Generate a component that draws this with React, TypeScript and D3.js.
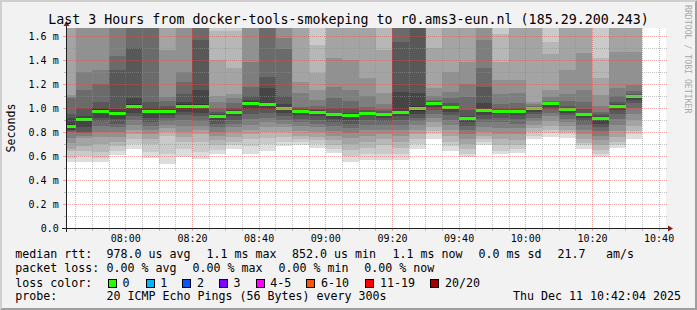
import React from "react";
import * as d3 from "d3";

// ---------- data ----------
const END = new Date(2025, 11, 11, 10, 42, 4);
const START = new Date(END.getTime() - 3 * 3600 * 1000);
const Y_MAX = 200 / 120; // ms

// 20 sorted ping rtts (ms) per 5-minute step, oldest first
const pings: number[][] = [
  [0.553, 0.58, 0.64, 0.66, 0.71, 0.75, 0.80, 0.81, 0.82, 0.83, 0.87, 0.92, 0.95, 1.08, 1.09, 1.11, 1.8, 2.0, 2.3, 2.6],
  [0.553, 0.60, 0.64, 0.68, 0.75, 0.77, 0.79, 0.80, 0.84, 0.892, 0.92, 0.93, 1.0, 1.15, 1.30, 1.8, 1.9, 2.1, 2.4, 2.8],
  [0.553, 0.58, 0.63, 0.70, 0.76, 0.80, 0.85, 0.89, 0.92, 0.955, 0.99, 1.0, 1.05, 1.2, 1.317, 1.8, 1.9, 2.1, 2.4, 2.7],
  [0.608, 0.64, 0.68, 0.72, 0.76, 0.80, 0.84, 0.87, 0.91, 0.945, 0.97, 0.99, 1.32, 1.43, 1.75, 1.85, 2.0, 2.2, 2.5, 2.9],
  [0.658, 0.70, 0.74, 0.78, 0.82, 0.86, 0.90, 0.93, 0.96, 0.998, 1.03, 1.08, 1.50, 1.7, 1.8, 1.9, 2.0, 2.2, 2.5, 2.9],
  [0.586, 0.63, 0.70, 0.74, 0.78, 0.82, 0.85, 0.88, 0.92, 0.955, 0.98, 1.0, 1.05, 1.7, 1.8, 1.9, 2.0, 2.2, 2.4, 2.8],
  [0.533, 0.62, 0.77, 0.80, 0.83, 0.86, 0.89, 0.92, 0.94, 0.96, 0.985, 1.0, 1.02, 1.06, 1.094, 1.483, 1.8, 2.0, 2.3, 2.6],
  [0.594, 0.66, 0.72, 0.76, 0.80, 0.85, 0.90, 0.94, 0.97, 0.99, 1.03, 1.05, 1.12, 1.22, 1.30, 1.75, 1.9, 2.1, 2.4, 2.7],
  [0.575, 0.63, 0.72, 0.78, 0.82, 0.85, 0.89, 0.93, 0.96, 0.998, 1.03, 1.15, 1.567, 1.7, 1.8, 1.9, 2.1, 2.3, 2.5, 2.9],
  [0.614, 0.65, 0.69, 0.73, 0.77, 0.80, 0.84, 0.87, 0.90, 0.916, 0.94, 0.95, 0.97, 1.0, 1.05, 1.10, 1.40, 1.644, 1.8, 2.1],
  [0.658, 0.69, 0.72, 0.76, 0.80, 0.84, 0.87, 0.90, 0.93, 0.952, 0.97, 0.98, 1.0, 1.04, 1.08, 1.12, 1.33, 1.64, 1.8, 2.0],
  [0.617, 0.68, 0.74, 0.78, 0.82, 0.86, 0.91, 0.95, 0.99, 1.022, 1.05, 1.07, 1.10, 1.178, 1.386, 1.75, 1.9, 2.1, 2.3, 2.6],
  [0.644, 0.70, 0.75, 0.80, 0.84, 0.88, 0.92, 0.96, 0.99, 1.016, 1.04, 1.164, 1.261, 1.7, 1.8, 1.9, 2.0, 2.2, 2.4, 2.7],
  [0.686, 0.72, 0.76, 0.80, 0.84, 0.87, 0.90, 0.93, 0.96, 0.988, 1.0, 1.03, 1.10, 1.49, 1.586, 1.75, 1.85, 2.0, 2.2, 2.5],
  [0.694, 0.72, 0.74, 0.77, 0.81, 0.85, 0.88, 0.91, 0.94, 0.963, 0.975, 0.985, 1.0, 1.011, 1.122, 1.219, 1.75, 1.9, 2.1, 2.4],
  [0.669, 0.70, 0.73, 0.76, 0.80, 0.84, 0.87, 0.90, 0.93, 0.952, 0.97, 0.98, 0.99, 1.02, 1.067, 1.15, 1.289, 1.525, 1.75, 2.0],
  [0.625, 0.66, 0.69, 0.73, 0.77, 0.81, 0.85, 0.88, 0.91, 0.934, 0.95, 0.96, 1.0, 1.08, 1.178, 1.414, 1.75, 1.9, 2.1, 2.4],
  [0.553, 0.60, 0.65, 0.70, 0.75, 0.79, 0.83, 0.87, 0.90, 0.927, 0.945, 0.96, 1.0, 1.06, 1.15, 1.40, 1.75, 1.9, 2.1, 2.4],
  [0.567, 0.62, 0.67, 0.72, 0.77, 0.82, 0.86, 0.90, 0.93, 0.951, 0.965, 0.97, 0.98, 1.01, 1.10, 1.25, 1.75, 1.9, 2.1, 2.4],
  [0.567, 0.62, 0.69, 0.74, 0.78, 0.82, 0.86, 0.89, 0.92, 0.939, 0.955, 0.96, 0.975, 0.99, 1.03, 1.122, 1.483, 1.9, 2.1, 2.4],
  [0.567, 0.62, 0.67, 0.72, 0.77, 0.82, 0.86, 0.90, 0.93, 0.952, 0.97, 1.136, 1.553, 1.7, 1.8, 1.9, 2.0, 2.2, 2.4, 2.7],
  [0.658, 0.70, 0.74, 0.78, 0.82, 0.86, 0.89, 0.92, 0.95, 0.974, 1.02, 1.122, 1.7, 1.75, 1.8, 1.9, 2.0, 2.2, 2.4, 2.7],
  [0.742, 0.78, 0.81, 0.84, 0.88, 0.92, 0.95, 0.98, 1.01, 1.032, 1.04, 1.045, 1.055, 1.07, 1.10, 1.164, 1.497, 1.75, 1.9, 2.2],
  [0.642, 0.68, 0.72, 0.77, 0.82, 0.86, 0.90, 0.94, 0.97, 0.996, 1.01, 1.02, 1.04, 1.08, 1.136, 1.30, 1.75, 1.9, 2.1, 2.4],
  [0.594, 0.62, 0.66, 0.70, 0.74, 0.78, 0.82, 0.85, 0.88, 0.902, 0.92, 0.93, 0.98, 1.094, 1.20, 1.386, 1.75, 1.9, 2.1, 2.4],
  [0.692, 0.72, 0.74, 0.77, 0.80, 0.84, 0.88, 0.91, 0.94, 0.966, 0.99, 1.04, 1.178, 1.33, 1.567, 1.7, 1.85, 2.0, 2.2, 2.5],
  [0.614, 0.64, 0.69, 0.74, 0.78, 0.83, 0.88, 0.92, 0.95, 0.97, 0.98, 0.985, 1.0, 1.03, 1.12, 1.233, 1.386, 1.617, 1.8, 2.0],
  [0.628, 0.66, 0.69, 0.73, 0.78, 0.83, 0.87, 0.91, 0.94, 0.963, 0.975, 0.985, 1.0, 1.04, 1.122, 1.233, 1.75, 1.9, 2.1, 2.4],
  [0.742, 0.77, 0.80, 0.83, 0.86, 0.89, 0.92, 0.95, 0.97, 0.99, 0.998, 1.0, 1.01, 1.02, 1.03, 1.053, 1.75, 1.9, 2.1, 2.4],
  [0.761, 0.79, 0.82, 0.85, 0.89, 0.93, 0.96, 0.99, 1.01, 1.032, 1.04, 1.045, 1.05, 1.06, 1.09, 1.15, 1.45, 1.553, 1.75, 2.0],
  [0.753, 0.78, 0.80, 0.82, 0.85, 0.88, 0.91, 0.94, 0.96, 0.982, 0.99, 1.0, 1.02, 1.06, 1.12, 1.317, 1.75, 1.9, 2.1, 2.4],
  [0.658, 0.69, 0.71, 0.74, 0.78, 0.82, 0.86, 0.89, 0.92, 0.939, 0.955, 0.96, 0.99, 1.053, 1.15, 1.456, 1.75, 1.9, 2.1, 2.4],
  [0.594, 0.62, 0.65, 0.69, 0.73, 0.77, 0.81, 0.84, 0.87, 0.902, 0.92, 0.93, 0.95, 0.97, 1.02, 1.108, 1.25, 1.414, 1.75, 2.0],
  [0.669, 0.69, 0.72, 0.76, 0.81, 0.86, 0.91, 0.95, 0.98, 1.008, 1.02, 1.03, 1.05, 1.10, 1.164, 1.47, 1.75, 1.9, 2.1, 2.4],
  [0.742, 0.78, 0.81, 0.85, 0.90, 0.95, 1.0, 1.04, 1.07, 1.089, 1.095, 1.10, 1.115, 1.14, 1.192, 1.47, 1.75, 1.9, 2.1, 2.4],
];

const yMajorTicks = [0, 0.2, 0.4, 0.6, 0.8, 1.0, 1.2, 1.4, 1.6];
const yMinorTicks = [0.1, 0.3, 0.5, 0.7, 0.9, 1.1, 1.3, 1.5];
const yTickLabels = ["0.0", "0.2 m", "0.4 m", "0.6 m", "0.8 m", "1.0 m", "1.2 m", "1.4 m", "1.6 m"];

const title = "Last 3 Hours from docker-tools-smokeping to r0.ams3-eun.nl (185.29.200.243)";
const yAxisTitle = "Seconds";
const watermark = "RRDTOOL / TOBI OETIKER";

const rttRow = ["median rtt:", "978.0 us avg", "1.1 ms max", "852.0 us min", "1.1 ms now", "0.0 ms sd", "21.7", "am/s"];
const lossRow = ["packet loss:", "0.00 % avg", "0.00 % max", "0.00 % min", "0.00 % now"];
const lossColorLabel = "loss color:";
const lossLabels = ["0", "1", "2", "3", "4-5", "6-10", "11-19", "20/20"];
const lossColors = ["#26ff00", "#00b8ff", "#0059ff", "#7e00ff", "#ff00ff", "#ff5500", "#ff0000", "#a10000"];
const probeRow = ["probe:", "20 ICMP Echo Pings (56 Bytes) every 300s"];
const stamp = "Thu Dec 11 10:42:04 2025";

// ---------- layout ----------
const W = 697, H = 310;
const PL = 66, PR = 666, PT = 28, PB = 228;
const FONT = "'DejaVu Sans Mono', monospace";
const rttX = [15.3, 106.6, 206.6, 292, 392.6, 478.6, 557.6, 606];
const lossX = [15.3, 106.6, 192.6, 278.6, 364.3];
const boxX = [108, 145.7, 182.4, 219, 255.7, 306.4, 365.4, 430.4];
const rowY = [258.3, 272.3, 286.6, 300.3];

const C = {
  back: "#f2f2f2",
  canvas: "#ffffff",
  shadeA: "#cfcfcf",
  shadeB: "#9e9e9e",
  grid: "rgba(143,143,143,0.55)",
  mgrid: "rgba(222,79,79,0.5)",
  arrow: "#801f1f",
  axis: "#1f1f1f",
};

export default function App() {
  const x = d3.scaleTime().domain([START, END]).range([PL, PR]);
  const y = d3.scaleLinear().domain([0, Y_MAX]).range([PB, PT]);

  const stepEnds = d3.timeMinute.every(5)!.range(START, END);
  const bars = pings.map((p, i) => {
    const s = [...p].sort(d3.ascending);
    return { t0: i === 0 ? START : stepEnds[i - 1], t1: stepEnds[i], p: s, med: d3.median(s) as number };
  });

  const majorT = d3.timeMinute.every(20)!.range(START, END);
  const minorT = d3.timeMinute.every(5)!.range(START, END).filter((t) => t.getMinutes() % 20 !== 0);
  const pxl = (v: number) => Math.floor(v);
  const fmt = d3.timeFormat("%H:%M");

  return (
    <svg width={W} height={H} style={{ position: "fixed", left: 0, top: 0, display: "block" }} fontFamily={FONT}>
      <defs>
        <clipPath id="plot">
          <rect x={PL} y={PT} width={PR - PL} height={PB - PT} />
        </clipPath>
        <pattern id="hMinor" patternUnits="userSpaceOnUse" x={0} y={0} width={2} height={1}>
          <rect x={0} y={0} width={1} height={1} fill={C.grid} />
        </pattern>
        <pattern id="vMinor" patternUnits="userSpaceOnUse" x={0} y={0} width={1} height={2}>
          <rect x={0} y={0} width={1} height={1} fill={C.grid} />
        </pattern>
        <pattern id="hMajor" patternUnits="userSpaceOnUse" x={0} y={0} width={2} height={1}>
          <rect x={0} y={0} width={1} height={1} fill={C.mgrid} />
        </pattern>
        <pattern id="vMajor" patternUnits="userSpaceOnUse" x={0} y={0} width={1} height={2}>
          <rect x={0} y={0} width={1} height={1} fill={C.mgrid} />
        </pattern>
      </defs>
      <rect x={0} y={0} width={W} height={H} fill={C.back} />
      {/* 3d frame */}
      <polygon points={`0,0 ${W},0 ${W - 2},2 2,2 2,${H - 2} 0,${H}`} fill={C.shadeA} />
      <polygon points={`${W},0 ${W},${H} 0,${H} 2,${H - 2} ${W - 2},${H - 2} ${W - 2},2`} fill={C.shadeB} />

      <rect x={PL} y={PT} width={PR - PL} height={PB - PT} fill={C.canvas} />

      <g clipPath="url(#plot)" shapeRendering="crispEdges">
        {bars.map((b, i) => {
          const x0 = x(b.t0), x1 = x(b.t1);
          return (
            <g key={i}>
              {d3.range(1, 11).map((ib) => {
                const lo = b.p[ib - 1], hi = b.p[20 - ib];
                const c = Math.floor((190 / 10) * (10 - ib)) + 50;
                return (
                  <rect key={ib} x={x0} width={x1 - x0} y={y(hi)} height={y(lo) - y(hi)} fill={d3.rgb(c, c, c).formatHex()} />
                );
              })}
              <rect x={x0} width={x1 - x0} y={y(b.med) - 1.5} height={3} fill={lossColors[0]} />
            </g>
          );
        })}
      </g>

      {/* dotted grid */}
      <g shapeRendering="crispEdges">
        {yMinorTicks.map((v) => (
          <rect key={"ym" + v} x={PL} y={pxl(y(v))} width={PR + 2 - PL} height={1} fill="url(#hMinor)" />
        ))}
        {minorT.map((t) => (
          <rect key={"xm" + +t} x={pxl(x(t))} y={PT} width={1} height={PB - PT} fill="url(#vMinor)" />
        ))}
        {yMajorTicks.filter((v) => v > 0).map((v) => (
          <rect key={"yM" + v} x={PL} y={pxl(y(v))} width={PR + 2 - PL} height={1} fill="url(#hMajor)" />
        ))}
        {majorT.map((t) => (
          <rect key={"xM" + +t} x={pxl(x(t))} y={PT} width={1} height={PB - PT} fill="url(#vMajor)" />
        ))}
      </g>
      {/* tick marks */}
      <g shapeRendering="crispEdges">
        {yMinorTicks.map((v) => (
          <rect key={"tym" + v} x={PL - 2} y={pxl(y(v))} width={2} height={1} fill={C.grid} />
        ))}
        {yMajorTicks.map((v) => (
          <rect key={"tyM" + v} x={PL - 3} y={pxl(y(v))} width={3} height={1} fill={C.mgrid} />
        ))}
        {minorT.map((t) => (
          <rect key={"txm" + +t} x={pxl(x(t))} y={PB + 1} width={1} height={2} fill={C.grid} />
        ))}
        {majorT.map((t) => (
          <rect key={"txM" + +t} x={pxl(x(t))} y={PB + 1} width={1} height={2} fill={C.mgrid} />
        ))}
      </g>

      {/* axes */}
      <rect x={PL - 4} y={PB} width={PR + 4 - (PL - 4)} height={1} fill={C.axis} shapeRendering="crispEdges" />
      <rect x={PL} y={PT - 4} width={1} height={PB + 4 - (PT - 4)} fill={C.axis} shapeRendering="crispEdges" />
      <polygon points={`${PR + 2},${PB - 2.5} ${PR + 7},${PB + 0.5} ${PR + 2},${PB + 3.5}`} fill={C.arrow} />
      <polygon points={`${PL - 2.5},${PT - 2} ${PL + 0.5},${PT - 7} ${PL + 3.5},${PT - 2}`} fill={C.arrow} />

      {/* axis labels */}
      <g fontSize={10} fill="#000">
        {yMajorTicks.map((v, i) => (
          <text key={"yl" + v} x={58.7} y={y(v) + 4} textAnchor="end">
            {yTickLabels[i]}
          </text>
        ))}
        {majorT.map((t) => (
          <text key={"xl" + +t} x={x(t)} y={241.6} textAnchor="middle">
            {fmt(t)}
          </text>
        ))}
      </g>

      <text x={W / 2} y={23.5} fontSize={13.3} textAnchor="middle" fill="#000">
        {title}
      </text>
      <text transform={`translate(15,${(PT + PB) / 2}) rotate(-90)`} fontSize={11.6} textAnchor="middle" fill="#000">
        {yAxisTitle}
      </text>
      <text transform={`translate(685,5) rotate(90)`} fontSize={8.2} fill="#a9a9a9">
        {watermark}
      </text>

      {/* legend */}
      <g fontSize={11.63} fill="#000" style={{ whiteSpace: "pre" }}>
        {rttRow.map((s, i) => (
          <text key={"r" + i} x={rttX[i]} y={rowY[0]}>
            {s}
          </text>
        ))}
        {lossRow.map((s, i) => (
          <text key={"l" + i} x={lossX[i]} y={rowY[1]}>
            {s}
          </text>
        ))}
        <text x={rttX[0]} y={rowY[2]}>
          {lossColorLabel}
        </text>
        {lossLabels.map((s, i) => (
          <g key={"b" + i}>
            <rect x={boxX[i] + 0.5} y={279.5} width={8} height={8} fill={lossColors[i]} stroke="#000" shapeRendering="crispEdges" />
            <text x={boxX[i] + 14.6} y={rowY[2]}>
              {s}
            </text>
          </g>
        ))}
        <text x={rttX[0]} y={rowY[3]}>
          {probeRow[0]}
        </text>
        <text x={rttX[1]} y={rowY[3]}>
          {probeRow[1]}
        </text>
        <text x={681} y={rowY[3]} textAnchor="end">
          {stamp}
        </text>
      </g>
    </svg>
  );
}
